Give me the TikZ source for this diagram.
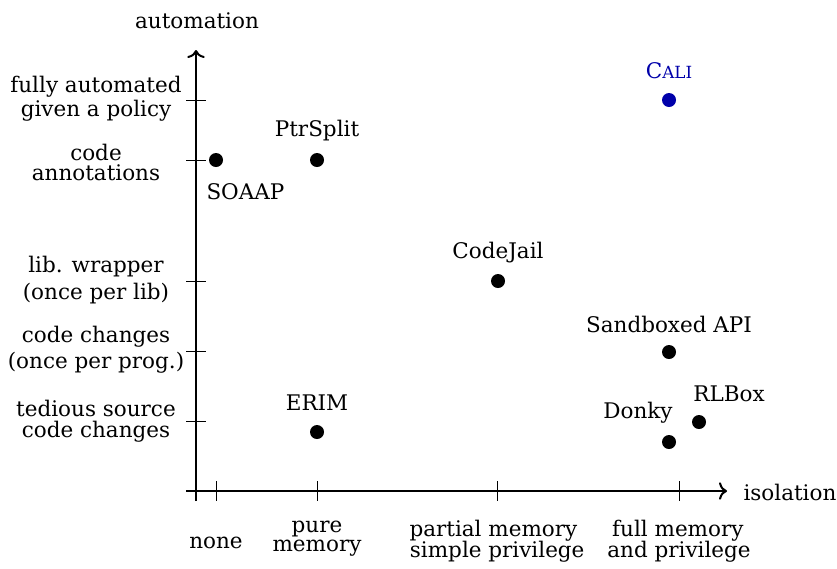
\documentclass[tikz,border=0pt]{standalone}
\usepackage{fontspec}
\setmainfont{DejaVu Serif}
\usetikzlibrary{arrows.meta}
\definecolor{caliblue}{RGB}{0,0,170}
\newcommand{\caliname}{C{\fontsize{6.7}{8}\selectfont ALI}}
\tikzset{
  axis/.style={line width=0.8pt, -{To[length=3.2pt, width=7pt]}},
  tick/.style={line width=0.4pt},
  dot/.style={circle, fill=black, inner sep=0pt, minimum size=5.6pt},
  lbl/.style={inner sep=0pt, anchor=base},
  ylbl/.style={inner sep=0pt, align=center, anchor=center},
  xlbl/.style={inner sep=0pt, anchor=center},
}
\begin{document}
\begin{tikzpicture}[x=0.4pt, y=-0.4pt, font=\fontsize{8.6}{10.5}\selectfont]
  \useasboundingbox (0,0) rectangle (837,568);

  % axes
  \coordinate (ybot) at (196,501);
  \coordinate (ytop) at (196,50);
  \coordinate (xleft) at (186,491);
  \coordinate (xright) at (727,491);
  \draw[axis] (ybot) -- (ytop);
  \draw[axis] (xleft) -- (xright);
  \node[lbl] (ylab) at (197,28) {automation};
  \node[inner sep=0pt, anchor=base west] (xlab) at (743,500) {isolation};

  % ticks on the automation axis
  \foreach \yy/\nm in {100/ta, 160/tb, 281/tc, 351/td, 421/te} {
    \coordinate (\nm l) at (186,\yy);
    \coordinate (\nm r) at (206,\yy);
    \draw[tick] (\nm l) -- (\nm r);
  }
  % ticks on the isolation axis
  \foreach \xx/\nm in {216/ia, 317/ib, 497/ic, 679/id} {
    \coordinate (\nm t) at (\xx,481);
    \coordinate (\nm b) at (\xx,501);
    \draw[tick] (\nm t) -- (\nm b);
  }

  % automation levels
  \node[ylbl] (la) at (96,99) {fully automated\\[-1pt]given a policy};
  \node[ylbl] (lb) at (96,162) {code\\[-2.5pt]annotations};
  \node[ylbl] (lc) at (96,280) {lib. wrapper\\(once per lib)};
  \node[ylbl] (ld) at (96,350) {code changes\\(once per prog.)};
  \node[ylbl] (le) at (96,421) {tedious source\\[-2pt]code changes};

  % isolation levels
  \node[xlbl] (na) at (216,543) {none};
  \node[ylbl] (nb) at (317,539) {pure\\[-3pt]memory};
  \node[xlbl] (nc) at (497,542) {\begin{tabular}{@{}r@{\ }l@{}}partial & memory\\[-2pt] simple & privilege\end{tabular}};
  \node[xlbl] (nd) at (679,542) {\begin{tabular}{@{}r@{\ }l@{}}full & memory\\[-2pt] and & privilege\end{tabular}};

  % systems
  \node[dot, fill=caliblue] (cali) at (669,100) {};
  \node[lbl, text=caliblue] (calil) at (669,78) {\caliname};

  \node[dot] (soaap) at (216,160) {};
  \node[inner sep=0pt, anchor=base west] (soaapl) at (206,199) {SOAAP};

  \node[dot] (ptr) at (317,160) {};
  \node[lbl] (ptrl) at (317,136) {PtrSplit};

  \node[dot] (cj) at (498,281) {};
  \node[lbl] (cjl) at (498,258) {CodeJail};

  \node[dot] (sapi) at (669,352) {};
  \node[lbl] (sapil) at (669,332) {Sandboxed API};

  \node[dot] (rlbox) at (699,422) {};
  \node[lbl] (rlboxl) at (729,401) {RLBox};

  \node[dot] (donky) at (669,442) {};
  \node[lbl] (donkyl) at (638,418) {Donky};

  \node[dot] (erim) at (317,432) {};
  \node[lbl] (eriml) at (317,410) {ERIM};
\end{tikzpicture}
\end{document}
